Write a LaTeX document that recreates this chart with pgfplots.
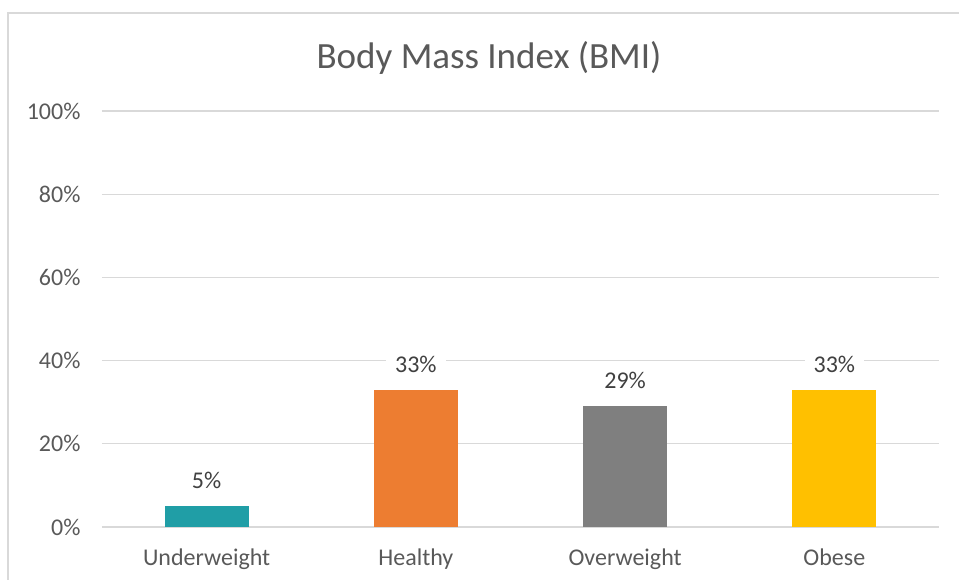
\documentclass[border=0pt]{standalone}
\usepackage{fontspec}
\setmainfont{Carlito}
\usepackage{pgfplots}
\pgfplotsset{compat=1.18}
\definecolor{txt}{HTML}{595959}
\definecolor{gridc}{HTML}{D9D9D9}
\definecolor{cteal}{HTML}{209EA6}
\definecolor{corange}{HTML}{ED7D31}
\definecolor{cgray}{HTML}{7F7F7F}
\definecolor{cgold}{HTML}{FFC000}
\begin{document}
\begin{tikzpicture}[x=1pt,y=1pt]
\useasboundingbox (0,0) rectangle (959,580);
\draw[color=gridc, line width=1.5pt] (975,567) -- (8,567) -- (8,-15);
\node[text=txt, font=\fontsize{37}{42}\selectfont] at (489,522) {Body Mass Index (BMI)};
\begin{axis}[
  at={(102pt,53pt)}, anchor=south west,
  scale only axis, width=837pt, height=416pt,
  xmin=-0.5, xmax=3.5, ymin=0, ymax=100,
  xtick={0,1,2,3},
  xticklabels={Underweight,Healthy,Overweight,Obese},
  ytick={0,20,40,60,80,100},
  yticklabel={\pgfmathprintnumber{\tick}\%},
  /pgf/number format/assume math mode=true,
  ymajorgrids, grid style={gridc, line width=1.2pt},
  axis line style={draw=none},
  major tick length=0pt,
  ticklabel style={text=txt, font=\fontsize{24}{28}\selectfont},
  xticklabel style={yshift=-18pt},
  yticklabel style={xshift=-18pt},
  ybar, bar width=84pt, bar shift=0pt,
  nodes near coords={\pgfmathprintnumber{\pgfplotspointmeta}\%},
  nodes near coords style={text=black!75, font=\fontsize{24}{28}\selectfont, fill=white, anchor=south, inner xsep=9pt, inner ysep=3pt, yshift=14pt},
  clip=false,
]
\addplot[draw=none, fill=cteal] coordinates {(0,5)};
\addplot[draw=none, fill=corange] coordinates {(1,33)};
\addplot[draw=none, fill=cgray] coordinates {(2,29)};
\addplot[draw=none, fill=cgold] coordinates {(3,33)};
\end{axis}
\end{tikzpicture}
\end{document}
